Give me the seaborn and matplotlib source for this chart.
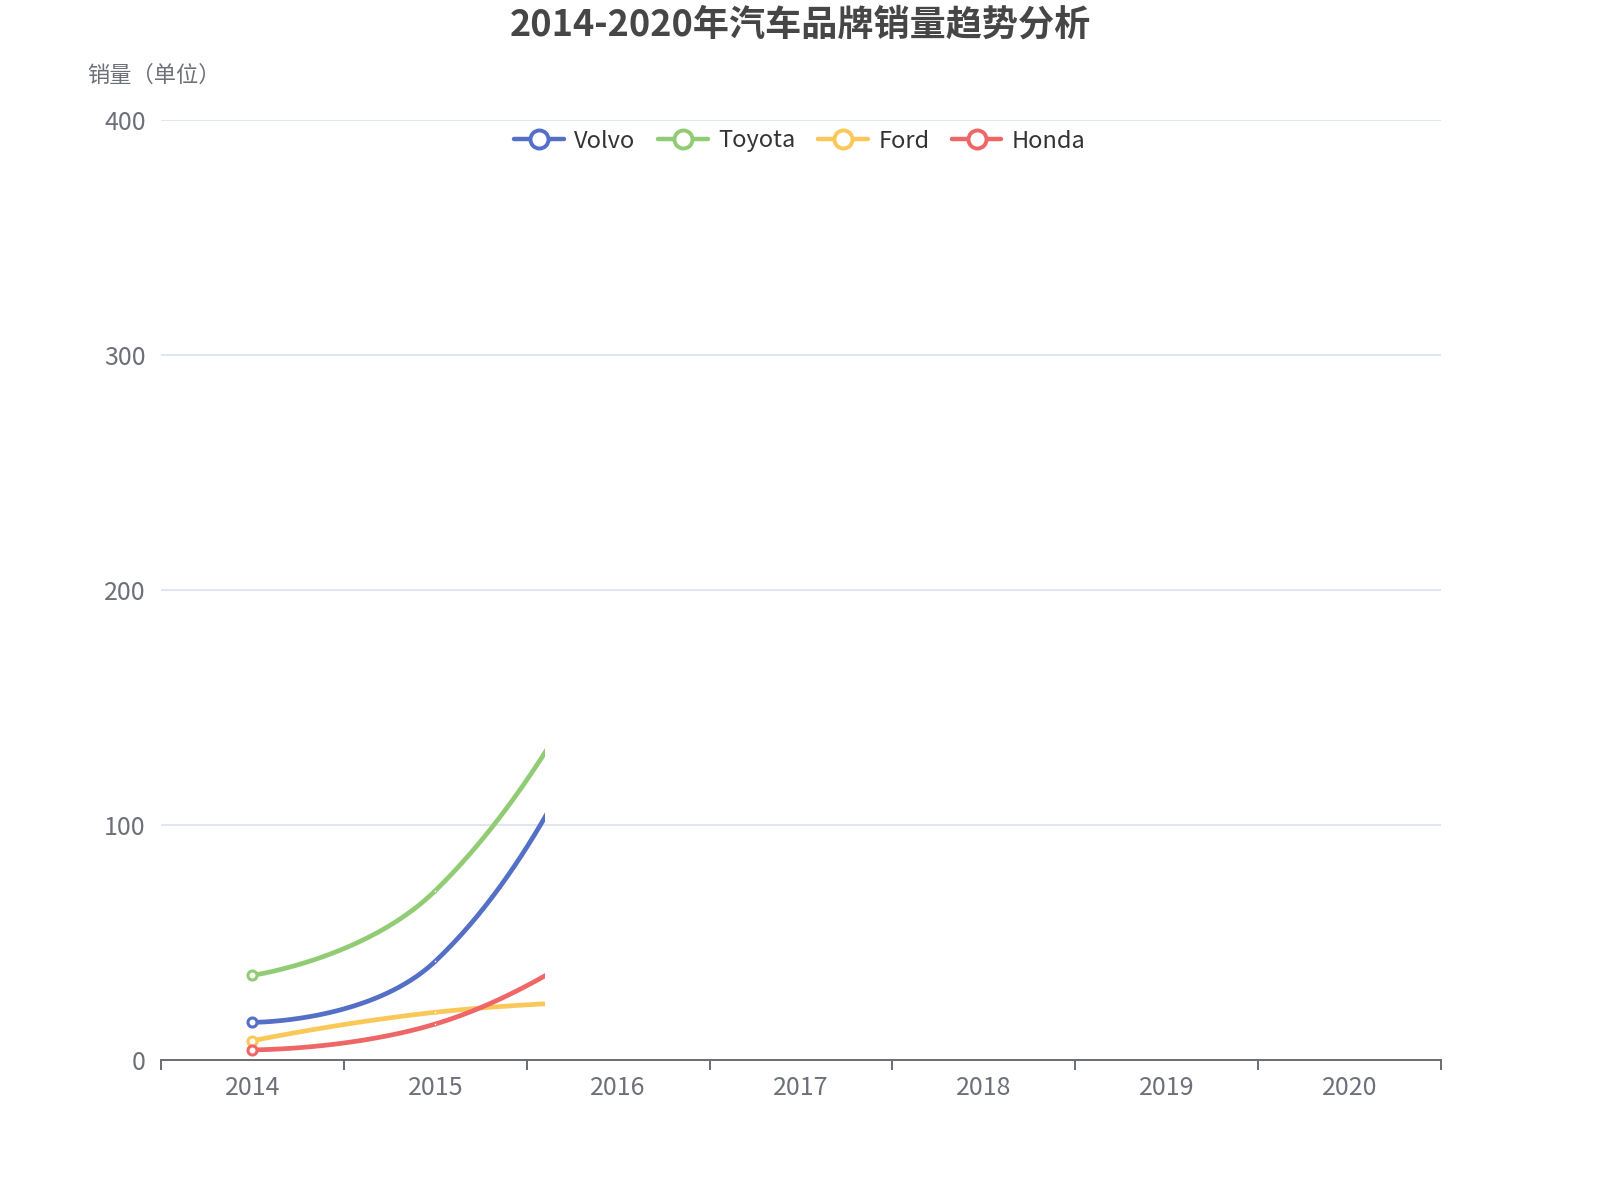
import numpy as np
import pandas as pd
import matplotlib.pyplot as plt
import seaborn as sns
from matplotlib.lines import Line2D
from matplotlib.patches import Rectangle

years = ["2014", "2015", "2016", "2017", "2018", "2019", "2020"]
brands = ["Volvo", "Toyota", "Ford", "Honda"]
# only the first years are drawn (the line animation stops a bit after 2015)
volvo = [16, 42, 170]
toyota = [36, 72, 188]
ford = [8.2, 20.3, 25]
honda = [4.3, 15.3, 56]
y_ticks = [0, 100, 200, 300, 400]

colors = {"Volvo": "#5470c6", "Toyota": "#91cc75", "Ford": "#fac858", "Honda": "#ee6666"}
series = {"Volvo": volvo, "Toyota": toyota, "Ford": ford, "Honda": honda}
reveal_x = 1.6  # where the clip of the line animation ends (in category units)
axis_grey = "#6e7079"


def smooth_curve(px, py, smooth=0.5, n=80):
    # bezier smoothing in pixel space, like echarts' smooth line
    pts = list(zip(px, py))
    cp0 = pts[0]
    xs, ys = [pts[0][0]], [pts[0][1]]
    for i in range(1, len(pts)):
        x, y = pts[i]
        ppx, ppy = pts[i - 1]
        if i == len(pts) - 1:
            cp1 = (x, y)
            nxt = None
        else:
            nx, ny = pts[i + 1]
            vx, vy = nx - ppx, ny - ppy
            len_prev = np.hypot(x - ppx, y - ppy)
            len_next = np.hypot(nx - x, ny - y)
            ratio = len_next / (len_next + len_prev)
            ncx = x + vx * smooth * ratio
            ncy = y + vy * smooth * ratio
            ncx = max(min(ncx, max(nx, x)), min(nx, x))
            ncy = max(min(ncy, max(ny, y)), min(ny, y))
            vx, vy = ncx - x, ncy - y
            c1x = x - vx * len_prev / len_next
            c1y = y - vy * len_prev / len_next
            c1x = max(min(c1x, max(ppx, x)), min(ppx, x))
            c1y = max(min(c1y, max(ppy, y)), min(ppy, y))
            vx, vy = x - c1x, y - c1y
            ncx = x + vx * len_next / len_prev
            ncy = y + vy * len_next / len_prev
            cp1 = (c1x, c1y)
            nxt = (ncx, ncy)
        t = np.linspace(0, 1, n)[1:]
        bx = (1 - t) ** 3 * ppx + 3 * (1 - t) ** 2 * t * cp0[0] + 3 * (1 - t) * t ** 2 * cp1[0] + t ** 3 * x
        by = (1 - t) ** 3 * ppy + 3 * (1 - t) ** 2 * t * cp0[1] + 3 * (1 - t) * t ** 2 * cp1[1] + t ** 3 * y
        xs.extend(bx)
        ys.extend(by)
        cp0 = nxt
    return np.array(xs), np.array(ys)


sns.set_theme(style="white")
plt.rcParams["font.family"] = ["Noto Sans CJK SC", "DejaVu Sans"]

fig = plt.figure(figsize=(16, 12), dpi=100)
ax = fig.add_axes([161 / 1600, 1 - 1060 / 1200, 1280 / 1600, (1060 - 119.5) / 1200])
ax.set_xlim(-0.5, len(years) - 0.5)
ax.set_ylim(0, 400)

clip = Rectangle((-0.5, -10), reveal_x + 0.5, 500, transform=ax.transData)

for name in brands:
    vals = series[name]
    xpos = np.arange(len(vals))
    disp = ax.transData.transform(np.column_stack([xpos, vals]))
    cx, cy = smooth_curve(disp[:, 0], disp[:, 1])
    back = ax.transData.inverted().transform(np.column_stack([cx, cy]))
    df = pd.DataFrame({"x": back[:, 0], "y": back[:, 1]})
    sns.lineplot(data=df, x="x", y="y", sort=False, estimator=None, color=colors[name],
                 lw=3.4, ax=ax, zorder=3).lines[-1].set_clip_path(clip)
    # first point symbol fully shown, next one still growing in
    ax.plot(xpos[0], vals[0], "o", ms=6.5, mfc="white", mec=colors[name], mew=2.2, zorder=4)
    ax.plot(xpos[1], vals[1], "o", ms=2.0, mfc="white", mec=colors[name], mew=0.8, zorder=4)

ax.set_yticks(y_ticks)
ax.set_yticklabels([str(v) for v in y_ticks])
for v in y_ticks[1:]:
    ax.axhline(v, color="#e0e6f1", lw=1.44, zorder=1)

ax.set_xticks(np.arange(len(years)))
ax.set_xticklabels(years)
ax.set_xticks(np.arange(-0.5, len(years)), minor=True)
ax.tick_params(axis="x", which="major", bottom=True, length=0, pad=11, labelsize=18,
               labelcolor=axis_grey)
ax.tick_params(axis="x", which="minor", bottom=True, length=7.2, width=1.44, color=axis_grey,
               direction="out")
ax.tick_params(axis="y", length=0, pad=11, labelsize=18, labelcolor=axis_grey)
ax.set_xlabel("")
ax.set_ylabel("")

for side in ["top", "right", "left"]:
    ax.spines[side].set_visible(False)
ax.spines["bottom"].set_color(axis_grey)
ax.spines["bottom"].set_linewidth(1.44)
ax.spines["bottom"].set_zorder(5)

fig.text(0.5, 1 - 25 / 1200, "2014-2020年汽车品牌销量趋势分析", ha="center", va="center",
         fontsize=26, fontweight="bold", color="#464646")
fig.text(154 / 1600, 1 - 75 / 1200, "销量（单位）", ha="center", va="center",
         fontsize=16, color=axis_grey)

handles = [Line2D([0], [0], color=colors[b], lw=3.2, marker="o", ms=13, mfc="white",
                  mec=colors[b], mew=2.8) for b in brands]
fig.legend(handles, brands, loc="center", bbox_to_anchor=(0.5, 1 - 141 / 1200), ncol=4,
           frameon=False, fontsize=17, handlelength=2.1, handletextpad=0.45,
           columnspacing=0.95, labelcolor="#333333")

plt.savefig("out.png", dpi=100)
